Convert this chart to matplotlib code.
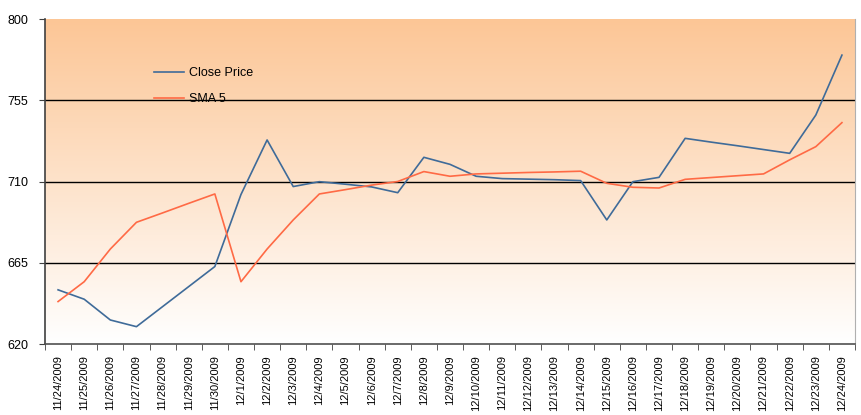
import numpy as np
import matplotlib.pyplot as plt

# data
dates = ["11/24/2009", "11/25/2009", "11/26/2009", "11/27/2009", "11/28/2009",
         "11/29/2009", "11/30/2009", "12/1/2009", "12/2/2009", "12/3/2009",
         "12/4/2009", "12/5/2009", "12/6/2009", "12/7/2009", "12/8/2009",
         "12/9/2009", "12/10/2009", "12/11/2009", "12/12/2009", "12/13/2009",
         "12/14/2009", "12/15/2009", "12/16/2009", "12/17/2009", "12/18/2009",
         "12/19/2009", "12/20/2009", "12/21/2009", "12/22/2009", "12/23/2009",
         "12/24/2009"]
close_price = [650.0, 644.8, 633.3, 629.6, 640.7, 651.8, 662.9, 702.8, 733.0, 707.2,
               709.9, 708.5, 707.0, 703.8, 723.4, 719.5, 712.9, 711.6, 711.3, 711.0,
               710.5, 688.7, 709.9, 712.3, 733.9, 731.8, 729.8, 727.7, 725.6, 746.8,
               780.0]
sma5 = [643.5, 654.5, 672.6, 687.4, 692.6, 697.9, 703.1, 654.5, 672.6, 688.7,
        703.1, 705.5, 708.0, 710.0, 715.5, 712.9, 714.2, 714.6, 715.0, 715.3,
        715.7, 709.0, 706.8, 706.4, 711.2, 712.2, 713.2, 714.2, 722.0, 729.3,
        742.6]
y_ticks = [620, 665, 710, 755, 800]

fig = plt.figure(figsize=(8.61, 4.15), dpi=100)
ax = fig.add_axes([45 / 861, 71 / 415, 810 / 861, 325 / 415])

x = np.arange(len(dates))

# orange-to-white background gradient
top = np.array([252, 198, 150]) / 255.0
bot = np.array([255, 255, 255]) / 255.0
t = np.linspace(0, 1, 256)[:, None]
grad = (top * (1 - t) + bot * t)[:, None, :]
ax.imshow(grad, extent=[-0.5, len(dates) - 0.5, y_ticks[0], y_ticks[-1]],
          aspect="auto", zorder=0, origin="upper")

for v in y_ticks[1:-1]:
    ax.axhline(v, color="black", lw=1.0, zorder=1)

ax.plot(x, close_price, color="#3f6b99", lw=1.2, label="Close Price", zorder=3)
ax.plot(x, sma5, color="#ff6a45", lw=1.2, label="SMA 5", zorder=3)

ax.set_xlim(-0.5, len(dates) - 0.5)
ax.set_ylim(y_ticks[0], y_ticks[-1])
ax.set_yticks(y_ticks)
ax.set_yticklabels([str(v) for v in y_ticks], fontsize=9, family="Liberation Sans")

ax.set_xticks(x)
ax.set_xticklabels(dates, rotation=90, fontsize=8, family="Liberation Sans")
ax.set_xticks(np.arange(len(dates) + 1) - 0.5, minor=True)
ax.tick_params(axis="x", which="major", length=0, pad=8)
ax.tick_params(axis="x", which="minor", length=4, color="#404040", direction="out")
ax.tick_params(axis="y", length=4, color="#404040", pad=8)

ax.spines["top"].set_visible(False)
ax.spines["left"].set_color("#404040")
ax.spines["bottom"].set_color("#505050")
ax.spines["right"].set_color("#b0b0b0")
ax.spines["left"].set_linewidth(1.2)
ax.spines["bottom"].set_linewidth(1.2)

ax.legend(loc="upper left", bbox_to_anchor=(0.1346, 0.852), frameon=False,
          prop={"family": "Liberation Sans", "size": 9}, handlelength=2.4,
          handletextpad=0.4, labelspacing=1.15, borderpad=0, borderaxespad=0)

fig.savefig("out.png", dpi=100)
